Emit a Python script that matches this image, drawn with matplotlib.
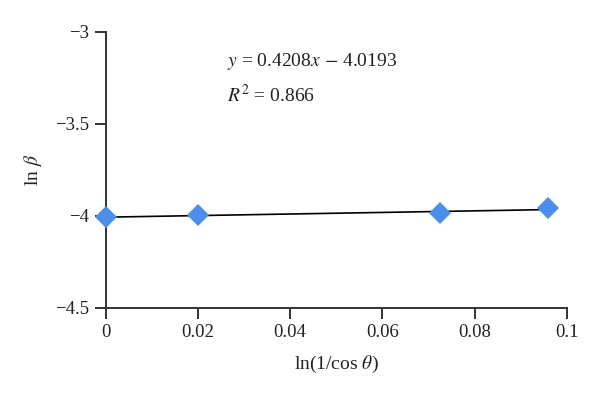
import matplotlib
matplotlib.use("Agg")
import matplotlib.pyplot as plt
import numpy as np

plt.rcParams['font.family'] = ['Liberation Serif', 'DejaVu Serif']
plt.rcParams['mathtext.fontset'] = 'stix'

x_vals = [0.0, 0.02, 0.0725, 0.096]
y_vals = [-4.009, -3.995, -3.987, -3.960]
x_ticks = [0, 0.02, 0.04, 0.06, 0.08, 0.1]
x_tick_labels = ["0", "0.02", "0.04", "0.06", "0.08", "0.1"]
y_ticks = [-4.5, -4, -3.5, -3]
y_tick_labels = ["\u22124.5", "\u22124", "\u22123.5", "\u22123"]

fig = plt.figure(figsize=(6, 3.96), dpi=100)
left, right = 105.7 / 600, 566.7 / 600
bottom, top = 1 - 307.7 / 396, 1 - 31.7 / 396
ax = fig.add_axes([left, bottom, right - left, top - bottom])

coef = np.polyfit(x_vals, y_vals, 1)
xl = np.array([x_vals[0], x_vals[-1]])
ax.plot(xl, np.polyval(coef, xl), color='black', lw=1.2, zorder=2)
ax.plot(x_vals, y_vals, linestyle='none', marker='D', markersize=11.2,
        color='#4a8ff0', markeredgewidth=0, zorder=3, clip_on=False)

ax.set_xlim(0, 0.1)
ax.set_ylim(-4.5, -3)
ax.set_xticks(x_ticks)
ax.set_xticklabels(x_tick_labels)
ax.set_yticks(y_ticks)
ax.set_yticklabels(y_tick_labels)
for s in ['top', 'right']:
    ax.spines[s].set_visible(False)
for s in ['left', 'bottom']:
    ax.spines[s].set_color('#333333')
    ax.spines[s].set_linewidth(1.4)
ax.tick_params(axis='both', direction='out', length=8, width=1.4, color='#333333',
               labelsize=13.5, pad=4, labelcolor='#222222')

ax.set_xlabel(r'ln(1/cos $\theta$)', fontsize=14, labelpad=9, color='#222222')
ax.set_ylabel(r'ln $\beta$', fontsize=14, labelpad=8, color='#222222')

ax.text(0.02625, -3.163, r'$y$ = 0.4208$x$ $-$ 4.0193', fontsize=14, va='center', ha='left',
        color='#222222')
ax.text(0.02625, -3.344, r'$R^2$ = 0.866', fontsize=14, va='center', ha='left',
        color='#222222')

fig.savefig('out.png', dpi=100)
